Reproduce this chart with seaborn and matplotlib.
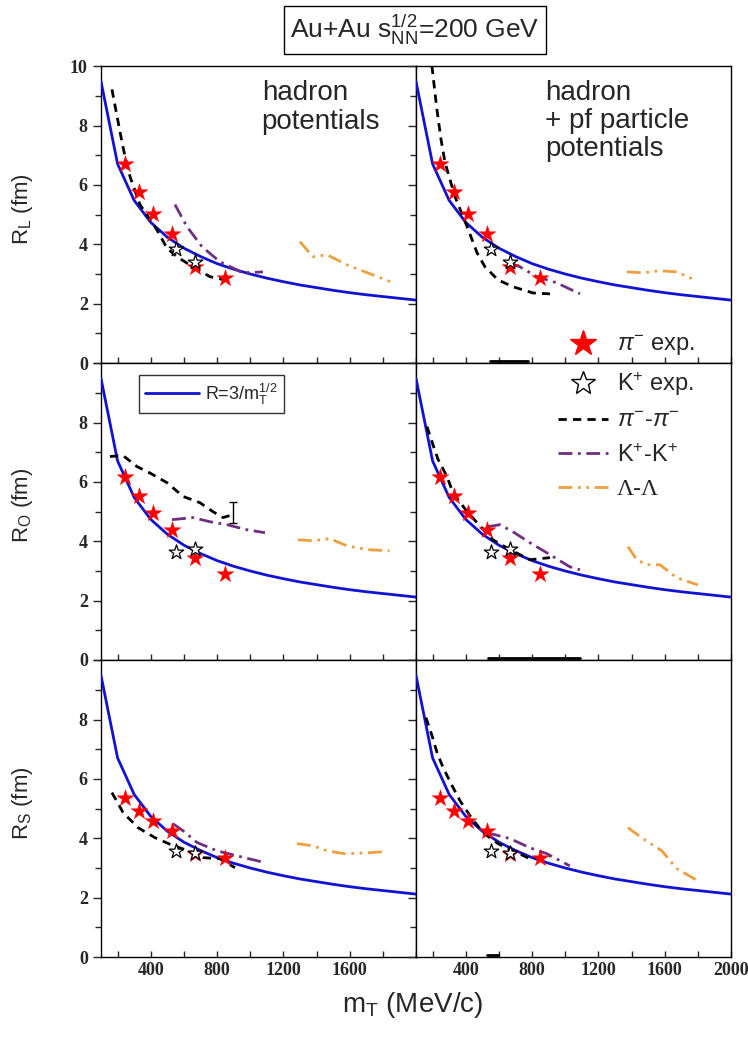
import matplotlib
matplotlib.use("Agg")
import matplotlib.pyplot as plt
from matplotlib.lines import Line2D
from matplotlib.ticker import MultipleLocator
import seaborn as sns

sns.set_style("ticks")
plt.rcParams['font.family'] = ['Liberation Sans', 'DejaVu Sans']
plt.rcParams['mathtext.fontset'] = 'custom'
plt.rcParams['mathtext.rm'] = 'Liberation Sans'
plt.rcParams['mathtext.it'] = 'Liberation Sans:italic'
plt.rcParams['mathtext.sf'] = 'Liberation Sans'

#
# data
#
# R = 3/sqrt(mT) reference curve
mt_curve = [100, 200, 300, 400, 500, 600, 700, 800, 900, 1000,
            1100, 1200, 1300, 1400, 1500, 1600, 1700, 1800, 1900, 2000]
r_curve = [9.49, 6.71, 5.48, 4.74, 4.24, 3.87, 3.59, 3.35, 3.16, 3.00,
           2.86, 2.74, 2.63, 2.54, 2.45, 2.37, 2.30, 2.24, 2.18, 2.12]

# experiment
pion_exp_mt = [245, 329, 414, 528, 667, 848]
pion_exp_RL = [6.72, 5.78, 5.03, 4.36, 3.24, 2.87]
pion_exp_RO = [6.18, 5.54, 4.97, 4.39, 3.45, 2.90]
pion_exp_RS = [5.37, 4.93, 4.59, 4.26, 3.48, 3.35]
kaon_exp_mt = [552, 667]
kaon_exp_RL = [3.85, 3.40]
kaon_exp_RO = [3.65, 3.75]
kaon_exp_RS = [3.58, 3.51]

# hadron potentials
hL_pi_mt = [166, 227, 245, 275, 335, 437, 497, 558, 655, 757, 896]
hL_pi_r = [9.22, 7.43, 6.96, 6.28, 5.34, 4.49, 3.88, 3.58, 3.24, 2.91, 2.74]
hL_K_mt = [546, 618, 709, 818, 956, 1077]
hL_K_r = [5.34, 4.60, 3.92, 3.41, 3.04, 3.07]
hL_La_mt = [1300, 1378, 1463, 1583, 1740, 1855]
hL_La_r = [4.09, 3.58, 3.65, 3.31, 2.97, 2.72]

hO_pi_mt = [154, 233, 317, 396, 497, 596, 697, 775, 836, 896]
hO_pi_r = [6.86, 6.89, 6.52, 6.30, 5.98, 5.51, 5.30, 5.00, 4.80, 4.90]
hO_K_mt = [528, 655, 757, 860, 980, 1089]
hO_K_r = [4.73, 4.80, 4.66, 4.56, 4.39, 4.29]
hO_La_mt = [1288, 1378, 1480, 1583, 1704, 1840]
hO_La_r = [4.05, 4.02, 4.09, 3.85, 3.72, 3.68]

hS_pi_mt = [166, 233, 323, 426, 516, 625, 715, 818, 908]
hS_pi_r = [5.54, 4.87, 4.36, 4.02, 3.80, 3.58, 3.35, 3.31, 3.01]
hS_K_mt = [534, 594, 679, 799, 920, 1089]
hS_K_r = [4.49, 4.26, 3.86, 3.58, 3.41, 3.18]
hS_La_mt = [1282, 1378, 1463, 1570, 1704, 1812]
hS_La_r = [3.82, 3.75, 3.58, 3.48, 3.51, 3.55]

# hadron + pf particle potentials
pL_pi_mt = [186, 226, 251, 275, 305, 335, 408, 468, 516, 595, 685, 806, 908]
pL_pi_r = [10.5, 8.55, 7.53, 6.76, 6.18, 5.61, 4.60, 3.72, 3.24, 2.80, 2.57, 2.36, 2.33]
pL_K_mt = [667, 727, 829, 950, 1089]
pL_K_r = [3.38, 3.24, 2.91, 2.70, 2.33]
pL_La_mt = [1372, 1469, 1571, 1674, 1782]
pL_La_r = [3.07, 3.04, 3.11, 3.07, 2.80]

pO_pi_mt = [166, 202, 233, 287, 323, 408, 468, 564, 667, 788, 908]
pO_pi_r = [7.87, 7.26, 6.76, 6.18, 5.64, 5.00, 4.63, 4.05, 3.72, 3.38, 3.45]
pO_K_mt = [528, 606, 685, 788, 908, 1028, 1089]
pO_K_r = [4.49, 4.56, 4.32, 3.95, 3.55, 3.14, 3.04]
pO_La_mt = [1378, 1432, 1493, 1571, 1674, 1800]
pO_La_r = [3.82, 3.38, 3.21, 3.21, 2.77, 2.53]

pS_pi_mt = [160, 196, 227, 263, 317, 365, 426, 504, 595, 685, 788, 908]
pS_pi_r = [8.07, 7.47, 6.89, 6.39, 5.78, 5.27, 4.76, 4.19, 3.82, 3.58, 3.31, 3.41]
pS_K_mt = [528, 667, 788, 890, 1028]
pS_K_r = [4.19, 3.99, 3.68, 3.48, 3.07]
pS_La_mt = [1378, 1469, 1553, 1583, 1674, 1800]
pS_La_r = [4.36, 3.99, 3.68, 3.58, 2.97, 2.57]

# short black pieces lying on the R=0 axis of the right-hand panels
pL_zero_mt = [546, 775]
pO_zero_mt = [534, 1089]
pS_zero_mt = [528, 594]
zero_r = [0.06, 0.06]

ylabels = ["R$_\\mathregular{L}$ (fm)", "R$_\\mathregular{O}$ (fm)", "R$_\\mathregular{S}$ (fm)"]
xtick_vals = [400, 800, 1200, 1600, 2000]
ytick_vals = [0, 2, 4, 6, 8, 10]

BLUE = '#1212d2'
PURPLE = '#6e2f80'
ORANGE = '#eea040'
PI_DASH = (0, (3.0, 2.2))
K_DASH = (0, (5, 2, 1, 2))
LA_DASH = (0, (5, 2, 1, 2, 1, 2))

panels = [
    [(hL_pi_mt, hL_pi_r), (hL_K_mt, hL_K_r), (hL_La_mt, hL_La_r)],
    [(pL_pi_mt, pL_pi_r), (pL_K_mt, pL_K_r), (pL_La_mt, pL_La_r)],
    [(hO_pi_mt, hO_pi_r), (hO_K_mt, hO_K_r), (hO_La_mt, hO_La_r)],
    [(pO_pi_mt, pO_pi_r), (pO_K_mt, pO_K_r), (pO_La_mt, pO_La_r)],
    [(hS_pi_mt, hS_pi_r), (hS_K_mt, hS_K_r), (hS_La_mt, hS_La_r)],
    [(pS_pi_mt, pS_pi_r), (pS_K_mt, pS_K_r), (pS_La_mt, pS_La_r)],
]
zero_pieces = [None, pL_zero_mt, None, pO_zero_mt, None, pS_zero_mt]
exp_pion = [pion_exp_RL, pion_exp_RO, pion_exp_RS]
exp_kaon = [kaon_exp_RL, kaon_exp_RO, kaon_exp_RS]

fig = plt.figure(figsize=(7.48, 10.48), dpi=100)

left_x = [101 / 748, 416 / 748]
w = 315 / 748
h = 296.7 / 1048
bottoms = [1 - 363 / 1048, 1 - 660 / 1048, 1 - 957 / 1048]

axes = []
for row in range(3):
    for col in range(2):
        ax = fig.add_axes([left_x[col], bottoms[row], w, h])
        axes.append(ax)
        k = row * 2 + col
        model = panels[k]

        sns.lineplot(x=mt_curve, y=r_curve, ax=ax, color=BLUE, lw=2.0, zorder=3)
        sns.lineplot(x=model[0][0], y=model[0][1], ax=ax, color='black', lw=2.0,
                     linestyle=PI_DASH, zorder=4)
        sns.lineplot(x=model[1][0], y=model[1][1], ax=ax, color=PURPLE, lw=2.0,
                     linestyle=K_DASH, zorder=4)
        sns.lineplot(x=model[2][0], y=model[2][1], ax=ax, color=ORANGE, lw=2.0,
                     linestyle=LA_DASH, zorder=4)
        if zero_pieces[k] is not None:
            sns.lineplot(x=zero_pieces[k], y=zero_r, ax=ax, color='black', lw=2.0, zorder=4)
        sns.scatterplot(x=pion_exp_mt, y=exp_pion[row], ax=ax, marker='*', s=160,
                        color='red', edgecolor='red', linewidth=0.3, zorder=5)
        sns.scatterplot(x=kaon_exp_mt, y=exp_kaon[row], ax=ax, marker='*', s=120,
                        facecolor='white', edgecolor='black', linewidth=0.9, zorder=6)

        ax.set_xlim(100, 2000)
        ax.set_ylim(0, 10)
        ax.xaxis.set_minor_locator(MultipleLocator(200))
        ax.yaxis.set_minor_locator(MultipleLocator(1))
        ax.set_xticks(xtick_vals)
        ax.set_yticks(ytick_vals)
        ax.tick_params(axis='x', which='both', direction='in', length=4, width=1,
                       bottom=True, top=False, labelbottom=(row == 2))
        ax.tick_params(axis='y', which='major', direction='out', length=6, width=1)
        ax.tick_params(axis='y', which='minor', direction='out', length=4, width=1)
        if row == 2:
            xl = ['400', '800', '1200', '1600', '2000'] if col == 1 else ['400', '800', '1200', '1600', '']
            ax.set_xticklabels(xl, fontfamily='Liberation Serif', fontweight='bold', fontsize=13)
        if col == 0:
            yl = ['0', '2', '4', '6', '8', '10'] if row == 0 else ['0', '2', '4', '6', '8', '']
            ax.set_yticklabels(yl, fontfamily='Liberation Serif', fontweight='bold', fontsize=13)
            ax.set_ylabel(ylabels[row], fontsize=16)
            ax.yaxis.set_label_coords(-0.21, 0.52)
        else:
            ax.set_yticklabels([])
            ax.set_ylabel('')
        ax.set_xlabel('')
        for sp in ax.spines.values():
            sp.set_linewidth(1.0)
            sp.set_color('black')

# big error bar in R_O hadron panel
axes[2].errorbar([896], [4.97], yerr=[0.35], fmt='none', ecolor='black', elinewidth=1,
                 capsize=3, zorder=5)

# panel texts
axes[0].text(0.51, 0.955, "hadron\npotentials", transform=axes[0].transAxes,
             fontsize=20, va='top', ha='left', linespacing=1.15)
axes[1].text(0.41, 0.955, "hadron\n+ pf particle\npotentials", transform=axes[1].transAxes,
             fontsize=20, va='top', ha='left', linespacing=1.1)

# curve legend
curve_handle = [Line2D([], [], color=BLUE, lw=2)]
leg1 = axes[2].legend(curve_handle, ["R=3/m$_\\mathregular{T}^\\mathregular{1/2}$"],
                      loc='upper left', bbox_to_anchor=(0.12, 0.96), fontsize=13,
                      frameon=True, fancybox=False, handlelength=3.0, borderpad=0.35,
                      handletextpad=0.3, borderaxespad=0)
leg1.get_frame().set_edgecolor('black')
leg1.get_frame().set_linewidth(1.0)

# species legend
handles = [
    Line2D([], [], marker='*', color='red', markersize=19, lw=0),
    Line2D([], [], marker='*', markerfacecolor='white', markeredgecolor='black',
           markersize=18, markeredgewidth=1.0, lw=0),
    Line2D([], [], color='black', lw=2, linestyle=PI_DASH),
    Line2D([], [], color=PURPLE, lw=2, linestyle=K_DASH),
    Line2D([], [], color=ORANGE, lw=2, linestyle=LA_DASH),
]
labels = ["$\\pi^\\mathregular{-}$ exp.", "K$^\\mathregular{+}$ exp.",
          "$\\pi^\\mathregular{-}$-$\\pi^\\mathregular{-}$",
          "K$^\\mathregular{+}$-K$^\\mathregular{+}$", "\u039b-\u039b"]
leg2 = fig.legend(handles, labels, loc='upper left',
                  bbox_to_anchor=(558 / 748, 1 - 334 / 1048), fontsize=17,
                  frameon=False, handlelength=2.1, handletextpad=0.4,
                  labelspacing=0.5, borderpad=0, borderaxespad=0)
leg2.get_texts()[4].set_fontfamily('Liberation Serif')

# title box
fig.text(415 / 748, 1 - 30 / 1048, "Au+Au s$_\\mathregular{NN}^\\mathregular{1/2}$=200 GeV",
         fontsize=19, ha='center', va='center',
         bbox=dict(boxstyle='square,pad=0.25', fc='white', ec='black', lw=1))

# x label
fig.text(413 / 748, 1 - 1005 / 1048, "m$_\\mathregular{T}$ (MeV/c)", fontsize=20,
         ha='center', va='center')

fig.savefig("out.png", dpi=100)
